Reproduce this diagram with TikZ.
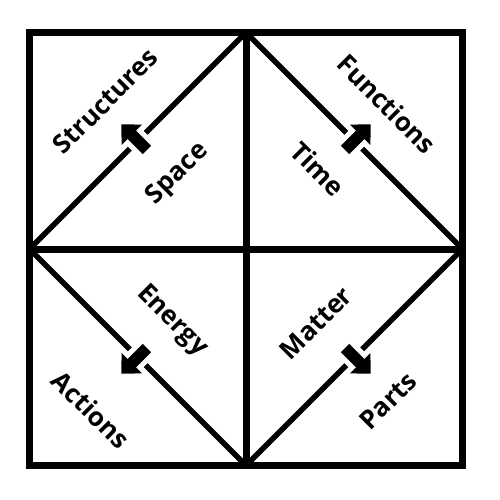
\documentclass[tikz,border=0pt]{standalone}
\usepackage{fontspec}
\setmainfont{Open Sans}
\usetikzlibrary{arrows.meta,calc}
\tikzset{
  lbl/.style={font=\bfseries\fontsize{26}{26}\selectfont, inner sep=0pt},
  flow/.style={line width=12pt, -{Triangle[width=28pt,length=15pt]}}
}
\begin{document}
\begin{tikzpicture}[x=1pt,y=-1pt]
  \useasboundingbox (0,0) rectangle (500,500);
  % frame
  \coordinate (nw) at (29.5,32.5);
  \coordinate (se) at (462.5,465.5);
  \coordinate (n) at (246,32.5);
  \coordinate (s) at (246,465.5);
  \coordinate (w) at (29.5,249);
  \coordinate (e) at (462.5,249);
  \draw[line width=6.5pt] (nw) rectangle (se);
  \draw[line width=7pt] (n) -- (s) (w) -- (e);
  \draw[line width=5.5pt, line join=round] (w) -- (n) -- (e) -- (s) -- cycle;
  % arrows
  \foreach \a/\b/\dx/\dy in {w/n/-1/-1, n/e/1/-1, w/s/-1/1, s/e/1/1} {
    \coordinate (m) at ($(\a)!0.5!(\b)$);
    \draw[white, line width=22pt] ($(m)+(-9.2*\dx,-9.2*\dy)$) -- ($(m)+(6*\dx,6*\dy)$);
    \draw[flow] ($(m)+(-9.2*\dx,-9.2*\dy)$) -- ($(m)+(16.5*\dx,16.5*\dy)$);
  }
  % labels
  \node[lbl, rotate=45] (structures) at (105,101) {Structures};
  \node[lbl, rotate=45] (space) at (178,174) {Space};
  \node[lbl, rotate=-45] (functions) at (387,104) {Functions};
  \node[lbl, rotate=-45] (time) at (318,169) {Time};
  \node[lbl, rotate=-45] (energy) at (172,321) {Energy};
  \node[lbl, rotate=-45] (actions) at (91,410) {Actions};
  \node[lbl, rotate=45] (matter) at (316,323) {Matter};
  \node[lbl, rotate=45] (parts) at (388,401) {Parts};
\end{tikzpicture}
\end{document}
